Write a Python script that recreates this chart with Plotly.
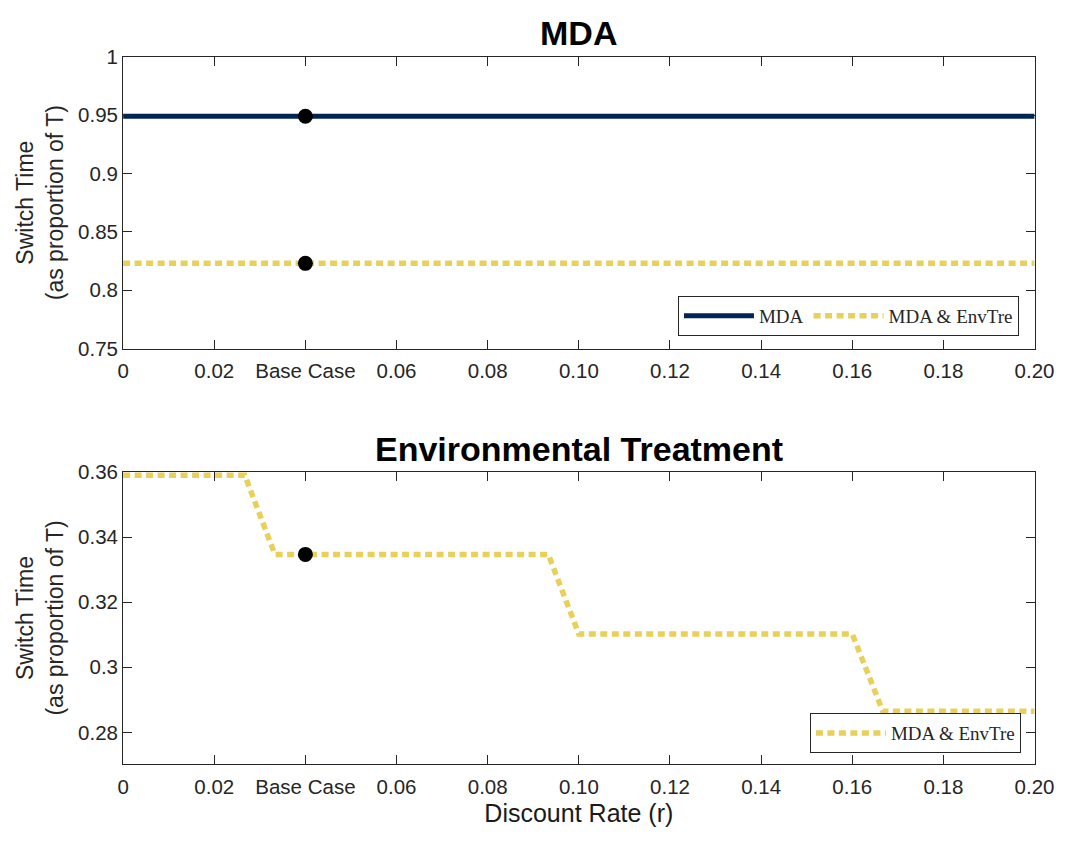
import plotly.graph_objects as go

# ---- data ----
x_range_top = [0.0, 0.20]
mda_top = [0.949, 0.949]
mda_env_top = [0.823, 0.823]
base_case_x = 0.04
base_top_y = [0.949, 0.823]

env_x = [0.0, 0.0267, 0.0333, 0.0933, 0.1, 0.16, 0.1667, 0.20]
env_y = [0.359, 0.359, 0.3347, 0.3347, 0.3102, 0.3102, 0.2865, 0.2865]
base_bottom_y = [0.3347]

x_tickvals = [0, 0.02, 0.04, 0.06, 0.08, 0.10, 0.12, 0.14, 0.16, 0.18, 0.20]
x_ticktext = ["0", "0.02", "Base Case", "0.06", "0.08", "0.10", "0.12", "0.14", "0.16", "0.18", "0.20"]
y_top_ticks = [0.75, 0.8, 0.85, 0.9, 0.95, 1.0]
y_top_text = ["0.75", "0.8", "0.85", "0.9", "0.95", "1"]
y_bot_ticks = [0.28, 0.30, 0.32, 0.34, 0.36]
y_bot_text = ["0.28", "0.3", "0.32", "0.34", "0.36"]

NAVY = "#002554"
YELLOW = "#E8D05A"
AX = "#262626"
SANS = "Liberation Sans, Arial, sans-serif"
SERIF = "Liberation Serif, DejaVu Serif, serif"

W, H = 1078, 843


def px_x(p):
    return p / W


def px_y(p):
    return 1 - p / H


fig = go.Figure()

fig.add_trace(go.Scatter(x=x_range_top, y=mda_top, mode="lines", name="MDA",
                         line=dict(color=NAVY, width=5), xaxis="x", yaxis="y",
                         legend="legend"))
fig.add_trace(go.Scatter(x=x_range_top, y=mda_env_top, mode="lines", name="MDA &amp; EnvTre",
                         line=dict(color=YELLOW, width=5.5, dash="7px,4.5px"), xaxis="x", yaxis="y",
                         legend="legend"))
fig.add_trace(go.Scatter(x=[base_case_x] * len(base_top_y), y=base_top_y, mode="markers",
                         marker=dict(color="black", size=15), showlegend=False,
                         xaxis="x", yaxis="y"))

fig.add_trace(go.Scatter(x=env_x, y=env_y, mode="lines", name="MDA &amp; EnvTre",
                         line=dict(color=YELLOW, width=5.5, dash="7px,4.5px"), xaxis="x2", yaxis="y2",
                         legend="legend2"))
fig.add_trace(go.Scatter(x=[base_case_x] * len(base_bottom_y), y=base_bottom_y, mode="markers",
                         marker=dict(color="black", size=15), showlegend=False,
                         xaxis="x2", yaxis="y2"))

xdom = [px_x(120), px_x(1054)]
ydom_top = [px_y(346), px_y(46)]
ydom_bot = [px_y(773), px_y(473)]

axis_common = dict(showline=True, linecolor=AX, linewidth=1, mirror="ticks",
                   ticks="inside", ticklen=9, tickcolor=AX, tickwidth=1,
                   showgrid=False, zeroline=False, ticklabeloverflow="allow",
                   tickfont=dict(family=SANS, size=20.5, color=AX))

ytitle = "Switch Time<br>(as proportion of T)"

fig.update_layout(
    width=W, height=H,
    margin=dict(l=0, r=0, t=0, b=0),
    paper_bgcolor="white", plot_bgcolor="white",
    xaxis=dict(domain=xdom, anchor="y", range=[0, 0.20], tickvals=x_tickvals,
               ticktext=x_ticktext, ticklabelstandoff=4, **axis_common),
    yaxis=dict(domain=ydom_top, anchor="x", range=[0.75, 1.0], tickvals=y_top_ticks,
               ticktext=y_top_text,
               title=dict(text=ytitle, font=dict(family=SANS, size=23, color=AX), standoff=8),
               **axis_common),
    xaxis2=dict(domain=xdom, anchor="y2", range=[0, 0.20], tickvals=x_tickvals,
                ticktext=x_ticktext, ticklabelstandoff=4,
                title=dict(text="Discount Rate (r)", font=dict(family=SANS, size=25, color="#1a1a1a"), standoff=7),
                **axis_common),
    yaxis2=dict(domain=ydom_bot, anchor="x2", range=[0.2703, 0.36], tickvals=y_bot_ticks,
                ticktext=y_bot_text,
                title=dict(text=ytitle, font=dict(family=SANS, size=23, color=AX), standoff=8),
                **axis_common),
    legend=dict(x=px_x(1038), xanchor="right", y=px_y(333), yanchor="bottom",
                orientation="h", bordercolor=AX, borderwidth=1, bgcolor="white",
                font=dict(family=SERIF, size=19, color=AX), itemwidth=70,
                tracegroupgap=0),
    legend2=dict(x=px_x(1040), xanchor="right", y=px_y(762), yanchor="bottom",
                 orientation="h", bordercolor=AX, borderwidth=1, bgcolor="white",
                 font=dict(family=SERIF, size=19, color=AX), itemwidth=70),
    annotations=[
        dict(text="<b>MDA</b>", x=(xdom[0] + xdom[1]) / 2, y=px_y(22), xref="paper",
             yref="paper", showarrow=False, xanchor="center", yanchor="middle",
             font=dict(family=SANS, size=34, color="black")),
        dict(text="<b>Environmental Treatment</b>", x=(xdom[0] + xdom[1]) / 2, y=px_y(449),
             xref="paper", yref="paper", showarrow=False, xanchor="center", yanchor="middle",
             font=dict(family=SANS, size=34, color="black")),
    ],
)

fig.write_html("out.html")
